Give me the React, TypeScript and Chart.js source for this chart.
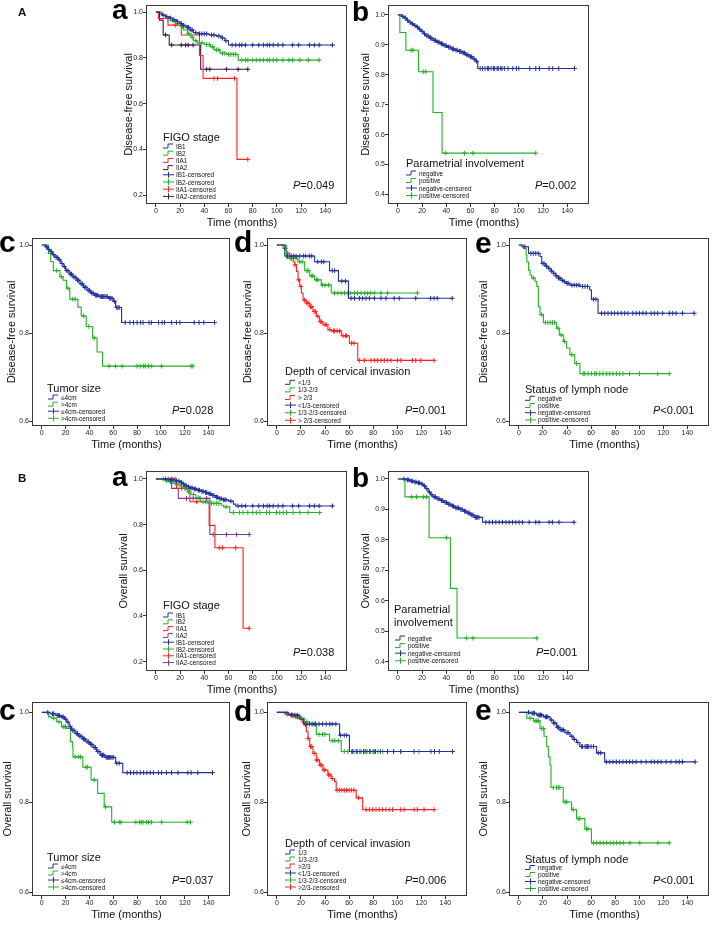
import React, { useEffect, useRef } from "react";
import { Chart, registerables } from "chart.js";

Chart.register(...registerables);

type Pair = [number, number];

// ---------- axis ticks ----------
const xTicks = [0, 20, 40, 60, 80, 100, 120, 140];
const yTicksWide = [0.2, 0.4, 0.6, 0.8, 1.0];
const yTicksTenth = [0.4, 0.5, 0.6, 0.7, 0.8, 0.9, 1.0];
const yTicksShort = [0.6, 0.8, 1.0];

// ---------- A a : DFS by FIGO stage ----------
const dfsIB1Steps: Pair[] = [[3,0.993],[5,0.987],[8,0.98],[11,0.974],[14,0.966],[17,0.958],[20,0.95],[22,0.942],[25,0.933],[28,0.922],[31,0.91],[35,0.905],[44,0.9],[50,0.895],[54,0.887],[57,0.875],[60,0.856]];
const dfsIB1Cens = [6,9,12,15,18,21,23,26,27,29,30,33,36,38,40,42,46,48,52,55,58,63,66,69,71,74,80,85,89,92,94,97,101,105,113,118,127,131,135,146];
const dfsIB2Steps: Pair[] = [[5,0.985],[8,0.972],[12,0.962],[16,0.95],[20,0.937],[23,0.922],[26,0.905],[29,0.89],[31,0.875],[34,0.865],[40,0.858],[45,0.848],[48,0.835],[53,0.82],[58,0.815],[68,0.79]];
const dfsIB2Cens = [10,14,18,22,27,30,33,36,38,42,44,47,50,52,55,57,60,62,64,66,71,74,76,80,83,86,89,92,94,97,100,105,110,113,119,126,135];
const dfsIIA1Steps: Pair[] = [[2,0.972],[10,0.943],[21,0.9],[36,0.81],[39,0.71],[67,0.356]];
const dfsIIA1Cens = [16,48,51,65,76];
const dfsIIA2Steps: Pair[] = [[3,0.965],[6,0.9],[11,0.856],[37,0.75]];
const dfsIIA2Cens = [8,13,21,24.6,26.7,30.7,41.9,44.6,58.4,68,76];

// ---------- A b : DFS by parametrial involvement ----------
const dfsParNegSteps: Pair[] = [[3,0.995],[5,0.99],[7,0.982],[9,0.975],[11,0.97],[13,0.965],[15,0.96],[17,0.952],[19,0.945],[21,0.937],[23,0.93],[26,0.922],[29,0.915],[32,0.909],[35,0.903],[38,0.897],[41,0.892],[44,0.886],[47,0.882],[50,0.878],[53,0.873],[56,0.866],[59,0.86],[62,0.853],[64,0.845],[66,0.821]];
const dfsParNegCens = [4,6,8,10,12,14,16,18,20,22,24,25,27,28,30,31,33,34,36,37,39,40,42,43,45,46,48,49,51,52,54,55,57,58,60,61,63,65,68,70,72,74,75,77,79,80,82,83,85,86,88,91,95,98,100,109,114,117,125,128,133,146];
const dfsParPosSteps: Pair[] = [[1.6,0.941],[6.6,0.882],[17,0.81],[29,0.674],[36.5,0.538]];
const dfsParPosCens = [11,12.5,21,23,39.5,55,62,114];

// ---------- A c : DFS by tumor size ----------
const dfsSizeLeSteps: Pair[] = [[3,0.996],[5,0.99],[7,0.985],[9,0.978],[11,0.972],[14,0.966],[16,0.958],[18,0.951],[20,0.942],[23,0.934],[26,0.927],[29,0.92],[32,0.912],[35,0.904],[38,0.897],[41,0.891],[44,0.886],[48,0.883],[56,0.879],[60,0.872],[62,0.858],[67,0.824]];
const dfsSizeLeCens = [4,6,8,10,12,13,15,17,19,21,22,24,25,27,28,30,31,33,34,36,37,39,40,42,43,45,46,47,49,50,51,52,53,54,55,57,58,59,61,63,64,65,70,74,77,80,83,85,90,92,98,101,103,109,113,116,128,132,136,145];
const dfsSizeGtSteps: Pair[] = [[5.6,0.981],[7.5,0.962],[9.7,0.942],[15.2,0.928],[17.9,0.92],[20.7,0.902],[23.5,0.877],[30.3,0.859],[33.1,0.839],[37.3,0.815],[42.7,0.789],[46.4,0.757],[51,0.725]];
const dfsSizeGtCens = [12.5,16.5,22,26,28,35,39.5,44,56.5,62,67.5,80,82.7,85.5,86.8,89.6,92.3,100.6,125.4,126.8];

// ---------- A d : DFS by depth of cervical invasion ----------
const dfsDepthLowSteps: Pair[] = [[6.6,0.975],[31.4,0.962],[43.8,0.942],[51.2,0.918],[59.5,0.879]];
const dfsDepthLowCens = [9,12,14,16,19,22,24,27,29,34,37,39,46,48,54,57,61.7,64.5,68.6,71.3,74.1,76.9,81,86.5,90.7,97.5,101.7,115.4,127.8,130.6,133.3,145.7];
const dfsDepthMidSteps: Pair[] = [[8,0.97],[17.6,0.962],[23.1,0.942],[27.3,0.93],[31.4,0.921],[36.9,0.909],[45.2,0.891]];
const dfsDepthMidCens = [11,14,16,19,21,25,26,29,30,33,34,38,40,43,47.9,50.7,53.5,56.2,59,61,64.5,67,70,73,75.5,78,81,86.5,92,116.8];
const dfsDepthHighSteps: Pair[] = [[5.2,0.992],[8,0.981],[10.7,0.97],[13.5,0.962],[14.9,0.955],[16.3,0.94],[17.6,0.921],[19,0.906],[20.4,0.891],[21.8,0.875],[24.5,0.868],[27.3,0.86],[30,0.849],[32.8,0.838],[35.5,0.826],[38.3,0.819],[42.4,0.808],[45.2,0.805],[53.5,0.794],[60.3,0.777],[67.2,0.738]];
const dfsDepthHighCens = [7,9,12,15,18,20,23,25,26,28,29,31,32,34,36,37,40,41,44,47,48,50,52,55,57,58,62,64,68.6,72.7,78.3,81,83.7,86.5,89.3,92,94.8,100.3,103.1,112.7,115.4,119.6,130.6];

// ---------- A e : DFS by lymph node ----------
const dfsNodeNegSteps: Pair[] = [[2.5,0.996],[8,0.981],[17.6,0.974],[19,0.958],[22,0.952],[24.5,0.947],[26.5,0.941],[28.6,0.936],[30.5,0.93],[32.8,0.925],[35,0.92],[36.9,0.917],[39.5,0.913],[42.4,0.909],[50.7,0.906],[58.9,0.898],[60.3,0.877],[65.8,0.845]];
const dfsNodeNegCens = [5,10,12,14,16,20,21,23,25,27,29,31,33,34,36,38,40,41,44,46,48,50,53,55,57,62,64,68.6,71.3,74.1,76.9,79.6,82.3,85.1,87.9,90.6,94.7,97.5,100.2,103,105.7,109.9,112.6,115.4,119.5,125,127.8,130.6,136,145.7];
const dfsNodePosSteps: Pair[] = [[3.8,0.992],[6,0.977],[6.6,0.962],[8,0.943],[9.3,0.932],[10.7,0.925],[13.5,0.917],[14.9,0.906],[16.2,0.86],[17.6,0.842],[20.4,0.824],[31.4,0.811],[33.6,0.796],[36.9,0.781],[39.7,0.766],[42.4,0.751],[46.5,0.731],[50.7,0.708]];
const dfsNodePosCens = [12,19,22,24,26,28,29.5,32.5,35,38,44,48,53.4,54.8,57.5,60.3,63.1,64.4,67.2,69.9,72.7,75.5,78.2,81,83.7,86.5,92,100.2,115.4,125];

// ---------- B a : OS by FIGO stage ----------
const osIB1Steps: Pair[] = [[10,0.996],[15,0.991],[20,0.985],[22,0.978],[24,0.971],[26,0.966],[28,0.961],[31,0.956],[34,0.951],[37,0.946],[40,0.941],[43,0.935],[46,0.928],[49,0.92],[52,0.914],[55,0.909],[60,0.903],[64,0.89],[66,0.882]];
const osIB1Cens = [8,12,14,17,19,21,23,25,27,29,30,32,33,35,36,38,39,41,42,44,45,47,48,50,51,53,54,56,57,58,62,68,71,74,80,85,89,92,94,97,101,105,113,118,127,131,135,146];
const osIB2Steps: Pair[] = [[8,0.993],[10,0.988],[14,0.981],[18,0.974],[21,0.966],[24,0.955],[26,0.944],[29,0.932],[33,0.918],[37,0.9],[44,0.893],[54,0.885],[56,0.878],[61,0.853]];
const osIB2Cens = [6,9,12,16,20,23,27,31,35,39,41,43,46,48,50,52,58,64,69,72,76,80,83,86,91.5,94,99.7,102.4,105.2,108,113.4,119,125.8,135.4];
const osIIA1Steps: Pair[] = [[17.1,0.959],[28.1,0.9],[44,0.797],[48.8,0.699],[72.1,0.346]];
const osIIA1Cens = [10.2,13,15.7,21.2,24,33.6,52.3,55,66,77.1];
const osIIA2Steps: Pair[] = [[13,0.959],[18.5,0.915],[44.6,0.757]];
const osIIA2Cens = [25.3,30.8,36.4,41.9,47.4,58.4,66.7,77.1];

// ---------- B b : OS by parametrial involvement ----------
const osParNegSteps: Pair[] = [[7,0.997],[10,0.993],[13,0.99],[16,0.987],[19,0.983],[21,0.977],[23,0.968],[25,0.957],[27,0.948],[29,0.941],[32,0.935],[35,0.929],[38,0.923],[41,0.917],[44,0.911],[47,0.905],[51,0.9],[54,0.894],[57,0.888],[60,0.882],[63,0.874],[70,0.858]];
const osParNegCens = [5,8,9,11,12,14,15,17,18,20,22,24,26,28,30,31,33,34,36,37,39,40,42,43,45,46,48,49,50,52,53,55,56,58,59,61,62,64,65,66,67,72.7,75.5,78.2,81,83.7,86.5,89.3,92,94.7,97.5,100.2,103,108.5,114,116.7,125,127.7,133.2,145.6];
const osParPosSteps: Pair[] = [[5.8,0.941],[25.8,0.807],[43.4,0.641],[48.9,0.478]];
const osParPosCens = [11.3,15.4,20.9,23.6,40.1,56.6,62,114.8];

// ---------- B c : OS by tumor size ----------
const osSizeLeSteps: Pair[] = [[7,0.997],[12,0.993],[16,0.99],[19,0.985],[21,0.978],[23,0.968],[25,0.96],[28,0.953],[31,0.947],[34,0.941],[37,0.935],[40,0.929],[43,0.922],[46,0.913],[49,0.905],[53,0.9],[62,0.887],[68,0.866]];
const osSizeLeCens = [5,9,10,13,14,15,17,18,20,22,24,26,27,29,30,32,33,35,36,38,39,41,42,44,45,47,48,50,51,52,54,55,56,57,58,59,60,63,65,71.7,74.5,77.2,79.9,82.7,85.5,88.2,91,93.7,97.9,100.6,104.7,108.9,114.4,122.6,125.4,130.9,143.3];
const osSizeGtSteps: Pair[] = [[5.6,0.99],[8.3,0.987],[12.5,0.979],[16.6,0.968],[21,0.964],[24,0.935],[25.7,0.924],[26.2,0.901],[34.5,0.878],[41.4,0.85],[46.9,0.82],[52.4,0.79],[58.7,0.756]];
const osSizeGtCens = [10,14.5,18,19.5,20,28,31,32.5,37,38.5,44,53.5,61,65,66.5,79,82,83.5,85,88,89.6,92,100.6,122,124.8];

// ---------- B d : OS by depth of cervical invasion ----------
const osDepthLowSteps: Pair[] = [[9.4,0.994],[19,0.985],[22,0.974],[52.1,0.949],[60.3,0.913]];
const osDepthLowCens = [12,15,17,24,27,30,32,35,38,41,44,46,49,53,56,58,63,66,69,72,74,77,80,82,86,92,97,103,114,128,131,135,146];
const osDepthMidSteps: Pair[] = [[6.6,0.996],[12.1,0.992],[17.6,0.987],[23.1,0.979],[27.3,0.974],[32.8,0.951],[43.8,0.937],[53.5,0.913]];
const osDepthMidCens = [9,14,16,20,25,29,31,32,35,38,40,46,48,51,56,59,62,64,67,70,73,75,78,81,84,88,92,97,103,118];
const osDepthHighSteps: Pair[] = [[6.6,0.998],[10.7,0.994],[14.9,0.99],[19,0.987],[21.8,0.979],[23.1,0.972],[24.5,0.957],[25.9,0.942],[27.3,0.924],[30,0.909],[32.8,0.894],[35.5,0.883],[38.3,0.872],[42.4,0.861],[45.2,0.853],[47.9,0.846],[49.3,0.827],[65.9,0.81],[71.3,0.784]];
const osDepthHighCens = [8,12,13,16,17,18,20,22,24,26,28,29,31,33,34,36,37,39,40,43,44,46,50,52,54,56,58,60,62,64,68,74.1,76.9,79.6,82.4,85.1,87.9,90.6,93.4,96.1,103,105.8,114,116.8,122.3,130.6];

// ---------- B e : OS by lymph node ----------
const osNodeNegSteps: Pair[] = [[9.3,0.998],[14.9,0.994],[20.4,0.99],[25.9,0.983],[28.6,0.976],[31.4,0.967],[34.1,0.961],[38.3,0.955],[42.4,0.947],[45.1,0.94],[47.9,0.933],[50.7,0.924],[64.5,0.91],[71.3,0.89]];
const osNodeNegCens = [8,11,12,13,16,17,18,19,22,23,24,27,29,30,32,33,35,36,37,40,41,44,46,49,52,53,55,56,57,58,60,62,66,68,72.7,75.5,78.2,81,83.7,86.5,89.3,92,94.7,97.5,101.6,105.7,109.9,112.6,115.4,118.2,122.3,126.4,130.6,133.3,136,146.5];
const osNodePosSteps: Pair[] = [[6.6,0.987],[12.1,0.981],[17.6,0.964],[20.9,0.947],[23.1,0.924],[24.5,0.901],[25.9,0.883],[26.7,0.833],[36.9,0.801],[43.8,0.784],[47.9,0.764],[54.8,0.741],[60.3,0.71]];
const osNodePosCens = [9.3,13.5,14.9,16.2,19,20.4,28.6,31.4,32.8,34.1,38.3,39.7,45.1,49.3,50.7,56.2,57.5,62,64.7,67.5,70.2,73,75.8,78.5,81.3,84,86.8,92.3,100.5,115.6,125];

// ---------- legend texts ----------
const figoLabels = ["IB1", "IB2", "IIA1", "IIA2", "IB1-censored", "IB2-censored", "IIA1-censored", "IIA2-censored"];
const yesNoLabels = ["negative", "positive", "negative-censored", "positive-censored"];
const sizeLabels = ["≤4cm", ">4cm", "≤4cm-censored", ">4cm-censored"];
const depthLabelsA = ["<1/3", "1/3-2/3", "> 2/3", "<1/3-censored", "1/3-2/3-censored", "> 2/3-censored"];
const depthLabelsB = ["1/3", "1/3-2/3", ">2/3", "<1/3-censored", "1/3-2/3-censored", ">2/3-censored"];
const pValues = ["P=0.049", "P=0.002", "P=0.028", "P=0.001", "P<0.001", "P=0.038", "P=0.001", "P=0.037", "P=0.006", "P<0.001"];
const xTitle = "Time (months)";

// ---------- styling / layout ----------
const FONT = '"Liberation Sans", Arial, Helvetica, sans-serif';
const BLUE = "#23309c";
const GREEN = "#26b026";
const RED = "#ff2020";
const PURPLE_A = "#3e1a4c";
const PURPLE_B = "#7a3a8c";
const X_MIN = -8.2;
const X_MAX = 158;
const AX = 34;
const TP = 6;
const RP = 4;
const BX = 26;
const DFS = "Disease-free survival";
const OS = "Overall survival";

interface Series { steps: Pair[]; cens: number[]; color: string; }
interface Legend { title: string[]; tx: number; ty: number; gx: number; iy: number; step: number; labels: string[]; p: string; px: number; py: number; }
interface Panel {
  key: string; frame: [number, number, number, number]; yMin: number; yMax: number; yTicks: number[];
  yTitle: string; yTitleX: number; letter: string; lx: number; ly: number; lsize: number;
  series: Series[]; legend: Legend;
}

const panels: Panel[] = [
  { key: "Aa", frame: [146, 5, 348, 204], yMin: 0.161, yMax: 1.031, yTicks: yTicksWide, yTitle: DFS, yTitleX: 128.5, letter: "a", lx: 112, ly: 19, lsize: 28,
    series: [
      { steps: dfsIB1Steps, cens: dfsIB1Cens, color: BLUE },
      { steps: dfsIB2Steps, cens: dfsIB2Cens, color: GREEN },
      { steps: dfsIIA1Steps, cens: dfsIIA1Cens, color: RED },
      { steps: dfsIIA2Steps, cens: dfsIIA2Cens, color: PURPLE_A },
    ],
    legend: { title: ["FIGO stage"], tx: 163, ty: 137, gx: 163, iy: 146, step: 7.2, labels: figoLabels, p: pValues[0], px: 293, py: 185 } },
  { key: "Ab", frame: [388, 5, 590, 204], yMin: 0.368, yMax: 1.033, yTicks: yTicksTenth, yTitle: DFS, yTitleX: 366, letter: "b", lx: 352, ly: 21, lsize: 28,
    series: [
      { steps: dfsParNegSteps, cens: dfsParNegCens, color: BLUE },
      { steps: dfsParPosSteps, cens: dfsParPosCens, color: GREEN },
    ],
    legend: { title: ["Parametrial involvement"], tx: 406, ty: 163, gx: 406, iy: 173, step: 7.5, labels: yesNoLabels, p: pValues[1], px: 535, py: 185 } },
  { key: "Ac", frame: [32, 238, 231, 426], yMin: 0.589, yMax: 1.016, yTicks: yTicksShort, yTitle: DFS, yTitleX: 12, letter: "c", lx: -1, ly: 252, lsize: 30,
    series: [
      { steps: dfsSizeLeSteps, cens: dfsSizeLeCens, color: BLUE },
      { steps: dfsSizeGtSteps, cens: dfsSizeGtCens, color: GREEN },
    ],
    legend: { title: ["Tumor size"], tx: 47, ty: 388, gx: 48, iy: 397, step: 7.1, labels: sizeLabels, p: pValues[2], px: 172, py: 410 } },
  { key: "Ad", frame: [267, 238, 468, 426], yMin: 0.589, yMax: 1.016, yTicks: yTicksShort, yTitle: DFS, yTitleX: 248, letter: "d", lx: 234, ly: 252, lsize: 30,
    series: [
      { steps: dfsDepthLowSteps, cens: dfsDepthLowCens, color: BLUE },
      { steps: dfsDepthMidSteps, cens: dfsDepthMidCens, color: GREEN },
      { steps: dfsDepthHighSteps, cens: dfsDepthHighCens, color: RED },
    ],
    legend: { title: ["Depth of cervical invasion"], tx: 285, ty: 371, gx: 285, iy: 382.3, step: 7.6, labels: depthLabelsA, p: pValues[3], px: 405, py: 410 } },
  { key: "Ae", frame: [509, 238, 710, 426], yMin: 0.589, yMax: 1.016, yTicks: yTicksShort, yTitle: DFS, yTitleX: 483.5, letter: "e", lx: 475, ly: 253, lsize: 30,
    series: [
      { steps: dfsNodeNegSteps, cens: dfsNodeNegCens, color: BLUE },
      { steps: dfsNodePosSteps, cens: dfsNodePosCens, color: GREEN },
    ],
    legend: { title: ["Status of lymph node"], tx: 525, ty: 389, gx: 525, iy: 398.3, step: 7.2, labels: yesNoLabels, p: pValues[4], px: 653, py: 410 } },
  { key: "Ba", frame: [146, 471, 348, 671], yMin: 0.159, yMax: 1.035, yTicks: yTicksWide, yTitle: OS, yTitleX: 124, letter: "a", lx: 112, ly: 486, lsize: 28,
    series: [
      { steps: osIB1Steps, cens: osIB1Cens, color: BLUE },
      { steps: osIB2Steps, cens: osIB2Cens, color: GREEN },
      { steps: osIIA1Steps, cens: osIIA1Cens, color: RED },
      { steps: osIIA2Steps, cens: osIIA2Cens, color: PURPLE_B },
    ],
    legend: { title: ["FIGO stage"], tx: 163, ty: 605, gx: 163, iy: 615, step: 6.8, labels: figoLabels, p: pValues[5], px: 293, py: 652 } },
  { key: "Bb", frame: [388, 471, 590, 671], yMin: 0.37, yMax: 1.026, yTicks: yTicksTenth, yTitle: OS, yTitleX: 366, letter: "b", lx: 352, ly: 487, lsize: 28,
    series: [
      { steps: osParNegSteps, cens: osParNegCens, color: BLUE },
      { steps: osParPosSteps, cens: osParPosCens, color: GREEN },
    ],
    legend: { title: ["Parametrial", "involvement"], tx: 394, ty: 609, gx: 395, iy: 638, step: 7.6, labels: yesNoLabels, p: pValues[6], px: 536, py: 652 } },
  { key: "Bc", frame: [32, 702, 231, 896], yMin: 0.592, yMax: 1.023, yTicks: yTicksShort, yTitle: OS, yTitleX: 7.5, letter: "c", lx: -1, ly: 720, lsize: 30,
    series: [
      { steps: osSizeLeSteps, cens: osSizeLeCens, color: BLUE },
      { steps: osSizeGtSteps, cens: osSizeGtCens, color: GREEN },
    ],
    legend: { title: ["Tumor size"], tx: 47, ty: 857, gx: 48, iy: 866, step: 7, labels: sizeLabels, p: pValues[7], px: 172, py: 880 } },
  { key: "Bd", frame: [267, 702, 468, 896], yMin: 0.592, yMax: 1.023, yTicks: yTicksShort, yTitle: OS, yTitleX: 246.5, letter: "d", lx: 234, ly: 721, lsize: 30,
    series: [
      { steps: osDepthLowSteps, cens: osDepthLowCens, color: BLUE },
      { steps: osDepthMidSteps, cens: osDepthMidCens, color: GREEN },
      { steps: osDepthHighSteps, cens: osDepthHighCens, color: RED },
    ],
    legend: { title: ["Depth of cervical invasion"], tx: 285, ty: 843, gx: 285, iy: 852, step: 7, labels: depthLabelsB, p: pValues[8], px: 405, py: 880 } },
  { key: "Be", frame: [509, 702, 710, 896], yMin: 0.592, yMax: 1.023, yTicks: yTicksShort, yTitle: OS, yTitleX: 484, letter: "e", lx: 475, ly: 720, lsize: 30,
    series: [
      { steps: osNodeNegSteps, cens: osNodeNegCens, color: BLUE },
      { steps: osNodePosSteps, cens: osNodePosCens, color: GREEN },
    ],
    legend: { title: ["Status of lymph node"], tx: 525, ty: 859, gx: 525, iy: 867.5, step: 7, labels: yesNoLabels, p: pValues[9], px: 653, py: 880 } },
];

function survAt(steps: Pair[], t: number): number {
  let s = 1;
  for (const [st, sv] of steps) { if (st <= t) s = sv; else break; }
  return s;
}

function curvePoints(se: Series) {
  const pts = [{ x: 0, y: 1 }];
  for (const [t, s] of se.steps) pts.push({ x: t, y: s });
  const lastT = se.steps.length ? se.steps[se.steps.length - 1][0] : 0;
  const end = Math.max(lastT, ...se.cens);
  pts.push({ x: end, y: survAt(se.steps, end) });
  return pts;
}

const framePlugin = {
  id: "kmFrame",
  afterDatasetsDraw(chart: any) {
    const { ctx, chartArea } = chart;
    const { left, top, right, bottom } = chartArea;
    ctx.save();
    ctx.strokeStyle = "#3a3a3a";
    ctx.lineWidth = 1;
    ctx.strokeRect(Math.round(left) + 0.5, Math.round(top) + 0.5, Math.round(right - left) - 1, Math.round(bottom - top) - 1);
    ctx.restore();
  },
};

function KMChart({ p }: { p: Panel }) {
  const ref = useRef<HTMLCanvasElement>(null);
  const [l, t, r, b] = p.frame;
  const W = r - l + AX + RP;
  const H = b - t + TP + BX;
  useEffect(() => {
    const datasets: any[] = [];
    p.series.forEach((se) => {
      datasets.push({
        data: curvePoints(se), borderColor: se.color, backgroundColor: se.color, borderWidth: 1.1,
        pointRadius: 0, stepped: "before", fill: false, tension: 0,
      });
      datasets.push({
        data: se.cens.map((c) => ({ x: c, y: survAt(se.steps, c) })), showLine: false,
        pointStyle: "cross", pointRadius: 2.4, borderColor: se.color, backgroundColor: se.color, borderWidth: 1,
      });
    });
    const titlePad = p.yTitleX - (l - AX) - (11 * 1.2) / 2;
    const chart = new Chart(ref.current as HTMLCanvasElement, {
      type: "line",
      data: { datasets },
      options: {
        animation: false,
        responsive: false,
        devicePixelRatio: 1,
        events: [],
        layout: { padding: { top: TP, right: RP, left: 0, bottom: 0 } },
        plugins: { legend: { display: false }, tooltip: { enabled: false } },
        scales: {
          x: {
            type: "linear", min: X_MIN, max: X_MAX,
            afterBuildTicks: (s: any) => { s.ticks = xTicks.map((v) => ({ value: v })); },
            afterFit: (s: any) => { s.height = BX; },
            grid: { display: true, drawOnChartArea: false, drawTicks: true, tickLength: 3, color: "#333" },
            border: { display: false },
            ticks: { font: { size: 7, family: FONT }, color: "#222", padding: 0, maxRotation: 0, autoSkip: false, callback: (v: any) => String(v) },
            title: { display: false },
          },
          y: {
            type: "linear", min: p.yMin, max: p.yMax,
            afterBuildTicks: (s: any) => { s.ticks = p.yTicks.map((v) => ({ value: v })); },
            afterFit: (s: any) => { s.width = AX; },
            grid: { display: true, drawOnChartArea: false, drawTicks: true, tickLength: 3, color: "#333" },
            border: { display: false },
            ticks: { font: { size: 7, family: FONT }, color: "#222", padding: 0, autoSkip: false, callback: (v: any) => Number(v).toFixed(1) },
            title: { display: true, text: p.yTitle, font: { size: 11, family: FONT }, color: "#111", padding: { top: titlePad, bottom: 0 } },
          },
        },
      } as any,
      plugins: [framePlugin],
    });
    return () => chart.destroy();
  }, []);
  return (
    <canvas ref={ref} width={W} height={H}
      style={{ position: "absolute", left: l - AX, top: t - TP, width: W, height: H }} />
  );
}

function LegendBlock({ p }: { p: Panel }) {
  const lg = p.legend;
  const n = p.series.length;
  return (
    <g>
      {lg.title.map((tt, i) => (
        <text key={"t" + i} x={lg.tx} y={lg.ty + i * 13} fontSize={11} dominantBaseline="central" fill="#111">{tt}</text>
      ))}
      {lg.labels.map((lab, i) => {
        const y = lg.iy + i * lg.step;
        const color = p.series[i % n].color;
        const g = lg.gx;
        return (
          <g key={"i" + i}>
            {i < n ? (
              <path d={`M${g} ${y + 2} H${g + 5} V${y - 2} H${g + 10}`} stroke={color} strokeWidth={1} fill="none" />
            ) : (
              <g>
                <path d={`M${g} ${y} H${g + 11}`} stroke={color} strokeWidth={1} />
                <path d={`M${g + 5.5} ${y - 3} V${y + 3}`} stroke={color} strokeWidth={1} />
              </g>
            )}
            <text x={g + 13} y={y} fontSize={6.4} dominantBaseline="central" fill="#111">{lab}</text>
          </g>
        );
      })}
      <text x={lg.px} y={lg.py} fontSize={11} dominantBaseline="central" fill="#111">
        <tspan fontStyle="italic">{lg.p.slice(0, 1)}</tspan>{lg.p.slice(1)}
      </text>
    </g>
  );
}

export default function App() {
  return (
    <div style={{ position: "absolute", left: 0, top: 0, width: 713, height: 925, background: "#fff", overflow: "hidden", fontFamily: FONT }}>
      {panels.map((p) => <KMChart key={p.key} p={p} />)}
      <svg width={713} height={925} style={{ position: "absolute", left: 0, top: 0, pointerEvents: "none" }} fontFamily={FONT}>
        <text x={18} y={16} fontSize={11.5} fontWeight="bold" fill="#111">A</text>
        <text x={18} y={482} fontSize={11.5} fontWeight="bold" fill="#111">B</text>
        {panels.map((p) => (
          <g key={p.key}>
            <text x={p.lx} y={p.ly} fontSize={p.lsize} fontWeight="bold" fill="#000">{p.letter}</text>
            <text x={(p.frame[0] + p.frame[2]) / 2 - 5} y={p.frame[3] + 18} fontSize={11} textAnchor="middle" dominantBaseline="central" fill="#111">{xTitle}</text>
            <LegendBlock p={p} />
          </g>
        ))}
      </svg>
    </div>
  );
}
